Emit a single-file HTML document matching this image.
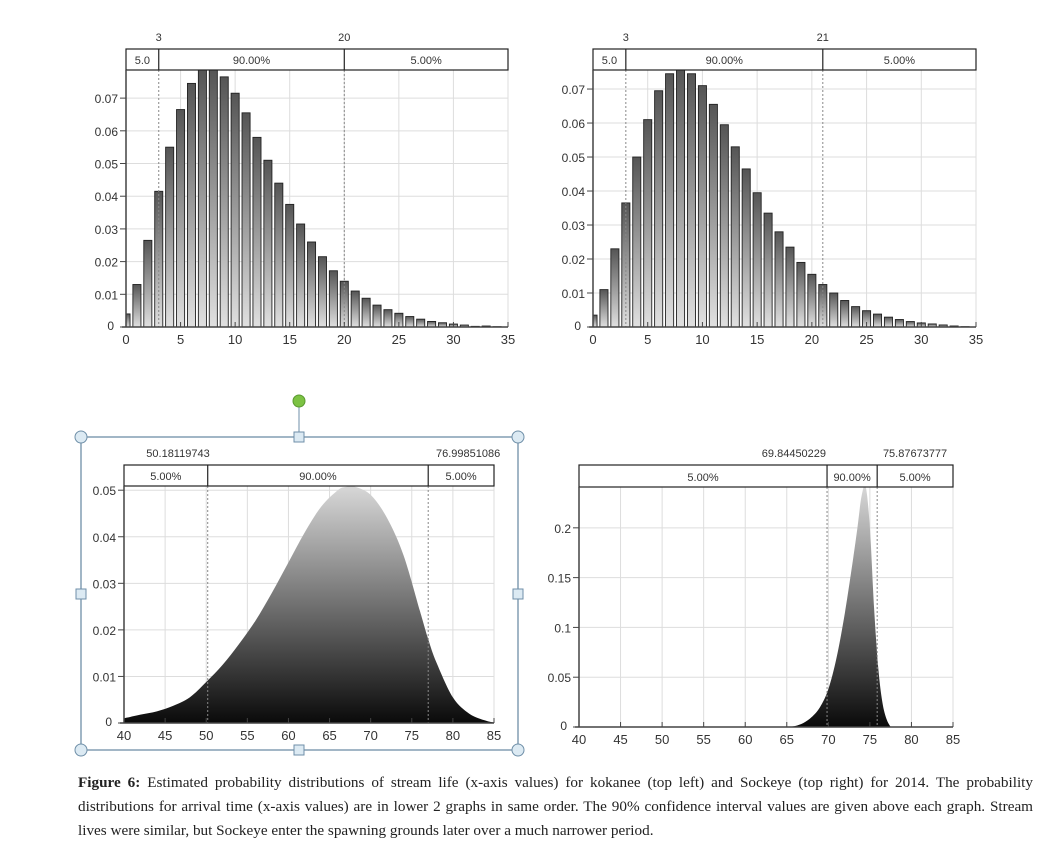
<!DOCTYPE html>
<html><head><meta charset="utf-8">
<style>
body{margin:0;background:#fff;width:1041px;height:851px;overflow:hidden;position:relative;font-family:"Liberation Sans",sans-serif}
svg{position:absolute;left:0;top:0}
#cap{position:absolute;left:78px;top:771px;width:955px;font-family:"Liberation Serif",serif;font-size:15.2px;line-height:24px;color:#222;text-align:justify}
</style></head><body>
<svg id="s" width="1041" height="770">
<defs>
<linearGradient id="barg" x1="0" y1="0" x2="0" y2="1"><stop offset="0" stop-color="#555"/><stop offset="1" stop-color="#e0e0e0"/></linearGradient>
<linearGradient id="areag" x1="0" y1="1" x2="0" y2="0"><stop offset="0" stop-color="#0a0a0a"/><stop offset="1" stop-color="#d8d8d8"/></linearGradient>
</defs>
<g>
<rect x="81" y="437" width="437" height="313" fill="none" stroke="#6f8fa8" stroke-width="1.3"/>
<line x1="299" y1="401" x2="299" y2="437" stroke="#6f8fa8"/>
<circle cx="299" cy="401" r="6" fill="#7cc243" stroke="#5a9a30"/>
<circle cx="81" cy="437" r="6" fill="#dceaf3" stroke="#6f8fa8"/>
<circle cx="518" cy="437" r="6" fill="#dceaf3" stroke="#6f8fa8"/>
<circle cx="81" cy="750" r="6" fill="#dceaf3" stroke="#6f8fa8"/>
<circle cx="518" cy="750" r="6" fill="#dceaf3" stroke="#6f8fa8"/>
<rect x="294" y="432" width="10" height="10" fill="#dceaf3" stroke="#6f8fa8"/>
<rect x="294" y="745" width="10" height="10" fill="#dceaf3" stroke="#6f8fa8"/>
<rect x="76" y="589" width="10" height="10" fill="#dceaf3" stroke="#6f8fa8"/>
<rect x="513" y="589" width="10" height="10" fill="#dceaf3" stroke="#6f8fa8"/>
</g>
</svg>
<div id="cap"><b>Figure 6:</b> Estimated probability distributions of stream life (x-axis values) for kokanee (top left) and Sockeye (top right) for 2014. The probability distributions for arrival time (x-axis values) are in lower 2 graphs in same order. The 90% confidence interval values are given above each graph. Stream lives were similar, but Sockeye enter the spawning grounds later over a much narrower period.</div>
<script>
const kokaneeLife=[0.004,0.013,0.0265,0.0415,0.055,0.0665,0.0745,0.079,0.079,0.0765,0.0715,0.0655,0.058,0.051,0.044,0.0375,0.0315,0.026,0.0215,0.0172,0.014,0.011,0.0088,0.0067,0.0053,0.0042,0.0032,0.0024,0.0017,0.0013,0.0009,0.0006,0.0002,0.0003,0.0001];
const sockeyeLife=[0.0035,0.011,0.023,0.0365,0.05,0.061,0.0695,0.0745,0.076,0.0745,0.071,0.0655,0.0595,0.053,0.0465,0.0395,0.0335,0.028,0.0235,0.019,0.0155,0.0125,0.01,0.0078,0.006,0.0048,0.0038,0.0029,0.0022,0.0016,0.0012,0.0009,0.0006,0.0003,0.0001];
const kokArrX=[40,42,44,46,48,50,52,54,56,58,60,62,64,66,67,68,70,72,74,76,77,78,80,82,84,85];
const kokArrY=[0.001,0.0018,0.0025,0.0037,0.0055,0.0088,0.0125,0.017,0.022,0.028,0.0345,0.041,0.0465,0.05,0.0507,0.0508,0.049,0.044,0.036,0.024,0.018,0.013,0.0055,0.002,0.0005,0.0001];
const sockArrX=[65,66,67,68,69,70,71,72,73,73.5,74,74.5,75,75.5,76,76.5,77,77.5];
const sockArrY=[0,0.001,0.004,0.01,0.02,0.038,0.07,0.115,0.17,0.2,0.232,0.241,0.2,0.12,0.06,0.025,0.008,0];
const lifeXTicks=[0,5,10,15,20,25,30,35];
const lifeYTicks=[0,0.01,0.02,0.03,0.04,0.05,0.06,0.07];
const arrXTicks=[40,45,50,55,60,65,70,75,80,85];
const kokArrYTicks=[0,0.01,0.02,0.03,0.04,0.05];
const sockArrYTicks=[0,0.05,0.1,0.15,0.2];
const kokLifeCI=[3,20], sockLifeCI=[3,21], kokArrCI=[50.18119743,76.99851086], sockArrCI=[69.84450229,75.87673777];
const kokLifeCILabels=["3","20"], sockLifeCILabels=["3","21"], kokArrCILabels=["50.18119743","76.99851086"], sockArrCILabels=["69.84450229","75.87673777"];
const segLabelsLife=["5.0","90.00%","5.00%"], segLabelsKA=["5.00%","90.00%","5.00%"], segLabelsSA=["5.00%","90.00%","5.00%"];

const NS="http://www.w3.org/2000/svg", S=document.getElementById('s');
function mk(t,a,p){const e=document.createElementNS(NS,t);for(const k in a)e.setAttribute(k,a[k]);(p||S).appendChild(e);return e;}
function txt(p,x,y,s,anchor,size){const t=mk('text',{x:x,y:y,'text-anchor':anchor||'middle','font-size':size||12,fill:'#333','font-family':'Liberation Sans, sans-serif'},p);t.textContent=s;return t;}

function chart(c){
  const g=mk('g',{});
  
  
  const X=v=>c.x0+(v-c.xmin)/(c.xmax-c.xmin)*(c.x1-c.x0);
  const Y=v=>c.y0-(v/c.ymax)*(c.y0-c.ytop);
  const grid=mk('g',{},g);
  
  
  c.xt.forEach(v=>{if(v>c.xmin&&v<c.xmax)mk('line',{x1:X(v),x2:X(v),y1:c.ytop,y2:c.y0,stroke:'#ddd'},grid);});
  c.yt.forEach(v=>{if(v>0)mk('line',{x1:c.x0,x2:c.x1,y1:Y(v),y2:Y(v),stroke:'#ddd'},grid);});
  mk('line',{x1:c.x1,x2:c.x1,y1:c.ytop,y2:c.y0,stroke:'#ddd'},grid);
  const marks=mk('g',{},g);
  
  
  if(c.bars){
    const w=(X(1)-X(0))*0.74;
    c.bars.forEach((v,i)=>{
      let l=X(i)-w/2,r=X(i)+w/2; if(l<c.x0)l=c.x0;
      const vv=Math.min(v,c.ymax);
      const b=mk('rect',{x:l,y:Y(vv),width:r-l,height:c.y0-Y(vv),fill:'url(#barg)',stroke:'#222','stroke-width':0.9},marks);
      
      
    });
  } else {
    const P=c.ax.map((v,i)=>[X(v),Y(Math.min(c.ay[i],c.ymax))]);
    let d='M'+P[0][0]+','+c.y0+' L'+P[0][0]+','+P[0][1];
    for(let i=0;i<P.length-1;i++){
      const p0=P[Math.max(0,i-1)],p1=P[i],p2=P[i+1],p3=P[Math.min(P.length-1,i+2)];
      const c1=[p1[0]+(p2[0]-p0[0])/6,p1[1]+(p2[1]-p0[1])/6],c2=[p2[0]-(p3[0]-p1[0])/6,p2[1]-(p3[1]-p1[1])/6];
      d+=' C'+c1[0]+','+Math.min(c1[1],c.y0)+' '+c2[0]+','+Math.min(c2[1],c.y0)+' '+p2[0]+','+p2[1];
    }
    d+=' L'+P[P.length-1][0]+','+c.y0+' Z';
    const a=mk('path',{d:d,fill:'url(#areag)'},marks);
    
    
  }
  c.ci.forEach((v,i)=>{
    mk('line',{x1:X(v),x2:X(v),y1:c.ytop,y2:c.y0,stroke:'#888','stroke-dasharray':'2,2'},g);
    const t=txt(g,X(v)+(c.ciOff?c.ciOff[i]:0),c.hy-8,c.ciLab[i],c.ciAnchor?c.ciAnchor[i]:'middle',11);
    
    
  });
  const h=mk('g',{},g);
  
  
  mk('rect',{x:c.x0,y:c.hy,width:c.x1-c.x0,height:c.ytop-c.hy,fill:'#fff',stroke:'#222','stroke-width':1.2},h);
  const b=[c.x0,X(c.ci[0]),X(c.ci[1]),c.x1];
  c.ci.forEach(v=>mk('line',{x1:X(v),x2:X(v),y1:c.hy,y2:c.ytop,stroke:'#222','stroke-width':1.2},h));
  c.seg.forEach((s,i)=>txt(h,(b[i]+b[i+1])/2,c.ytop-6,s,'middle',11));
  mk('line',{x1:c.x0,x2:c.x0,y1:c.ytop,y2:c.y0,stroke:'#444','stroke-width':1.5},g);
  mk('line',{x1:c.x0-4,x2:c.x1,y1:c.y0,y2:c.y0,stroke:'#444','stroke-width':1.5},g);
  const xa=mk('g',{},g);
  
  
  c.xt.forEach(v=>{mk('line',{x1:X(v),x2:X(v),y1:c.y0,y2:c.y0-5,stroke:'#444'},xa);txt(xa,X(v),c.y0+17,String(v),'middle',13);});
  const ya=mk('g',{},g);
  
  
  c.yt.forEach(v=>{mk('line',{x1:c.x0-6,x2:c.x0,y1:Y(v),y2:Y(v),stroke:'#444'},ya);txt(ya,c.x0-(v===0?12:8),Y(v)+(v===0?3:5),String(v),'end',12);});
}
chart({name:'kokanee-stream-life-chart',x0:126,x1:508,xmin:0,xmax:35,y0:327,ytop:70,hy:49,ymax:0.0786,xt:lifeXTicks,yt:lifeYTicks,bars:kokaneeLife,ci:kokLifeCI,ciLab:kokLifeCILabels,seg:segLabelsLife});
chart({name:'sockeye-stream-life-chart',x0:593,x1:976,xmin:0,xmax:35,y0:327,ytop:70,hy:49,ymax:0.0756,xt:lifeXTicks,yt:lifeYTicks,bars:sockeyeLife,ci:sockLifeCI,ciLab:sockLifeCILabels,seg:segLabelsLife});
chart({name:'kokanee-arrival-chart',x0:124,x1:494,xmin:40,xmax:85,y0:723,ytop:486,hy:465,ymax:0.0509,xt:arrXTicks,yt:kokArrYTicks,ax:kokArrX,ay:kokArrY,ci:kokArrCI,ciLab:kokArrCILabels,ciAnchor:['end','end'],ciOff:[2,72],seg:segLabelsKA});
chart({name:'sockeye-arrival-chart',x0:579,x1:953,xmin:40,xmax:85,y0:727,ytop:487,hy:465,ymax:0.241,xt:arrXTicks,yt:sockArrYTicks,ax:sockArrX,ay:sockArrY,ci:sockArrCI,ciLab:sockArrCILabels,ciAnchor:['end','end'],ciOff:[-1,70],seg:segLabelsSA});
</script>
</body></html>
